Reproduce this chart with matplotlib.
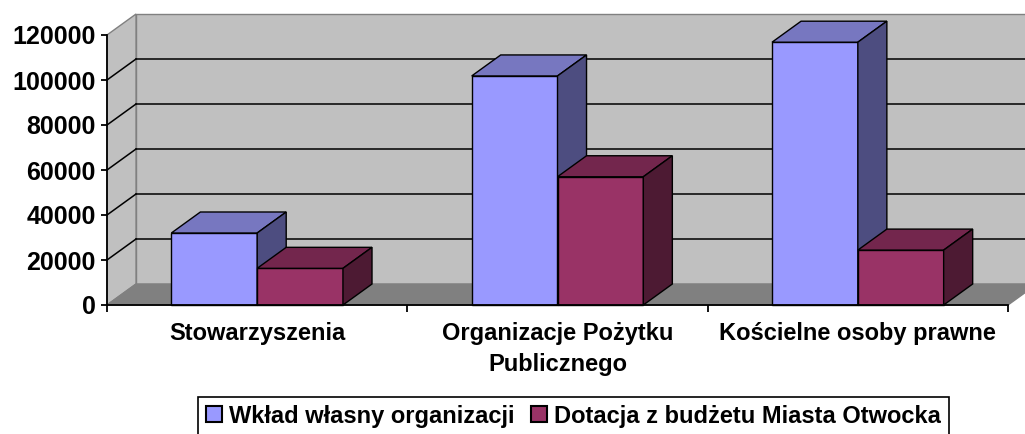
import matplotlib
matplotlib.use("Agg")
import matplotlib.pyplot as plt
from matplotlib.patches import Polygon, Patch

categories = ['Stowarzyszenia', 'Organizacje Pożytku\nPublicznego', 'Kościelne osoby prawne']
series_names = ['Wkład własny organizacji', 'Dotacja z budżetu Miasta Otwocka']
wklad = [32000, 101800, 116800]
dotacja = [16300, 57000, 24400]
yticks = [0, 20000, 40000, 60000, 80000, 100000, 120000]

# front, top, side shades (Excel 3D look)
blue = ('#9999FF', '#7777C0', '#4D4D80')
red = ('#993366', '#73264D', '#4D1A33')

plt.rcParams['font.family'] = ['Liberation Sans', 'DejaVu Sans']
plt.rcParams['font.weight'] = 'bold'
fs = 17

fig = plt.figure(figsize=(10.25, 4.34), dpi=100)
W, H = 1025, 434
ax = fig.add_axes([107 / W, (H - 305) / H, 901 / W, 270 / H])
ax.set_xlim(0, 3)
ax.set_ylim(0, 120000)
ax.patch.set_visible(False)

# depth of the 3D box, in data units (29 px right, 21 px up)
ddx = 29 / 300
ddy = 21 / 270 * 120000
ymax = yticks[-1]
nx = len(categories)

wall_kw = dict(clip_on=False, linewidth=1.0, edgecolor='#808080', zorder=0)
# back wall
ax.add_patch(Polygon([(ddx, ddy), (nx + ddx, ddy), (nx + ddx, ymax + ddy), (ddx, ymax + ddy)],
                     facecolor='#C0C0C0', **wall_kw))
# left wall
ax.add_patch(Polygon([(0, 0), (ddx, ddy), (ddx, ymax + ddy), (0, ymax)],
                     facecolor='#C0C0C0', **wall_kw))
# floor
ax.add_patch(Polygon([(0, 0), (nx, 0), (nx + ddx, ddy), (ddx, ddy)],
                     facecolor='#808080', **wall_kw))

# gridlines on back and left wall
for v in yticks[1:-1]:
    ax.plot([ddx, nx + ddx], [v + ddy, v + ddy], color='black', lw=1.1, zorder=1, clip_on=False)
    ax.plot([0, ddx], [v, v + ddy], color='black', lw=1.1, zorder=1, clip_on=False)

# bars
bw = 1 / 3.5
x0 = [i + 0.75 * bw for i in range(nx)]


def bars3d(xs, vals, shades):
    front, top, side = shades
    ax.bar(xs, vals, width=bw, align='edge', color=front, edgecolor='black',
           linewidth=1.0, zorder=3, clip_on=False)
    for x, v in zip(xs, vals):
        ax.add_patch(Polygon([(x, v), (x + bw, v), (x + bw + ddx, v + ddy), (x + ddx, v + ddy)],
                             facecolor=top, edgecolor='black', lw=1.0, zorder=3, clip_on=False))
        ax.add_patch(Polygon([(x + bw, 0), (x + bw + ddx, ddy), (x + bw + ddx, v + ddy), (x + bw, v)],
                             facecolor=side, edgecolor='black', lw=1.0, zorder=3, clip_on=False))


bars3d(x0, wklad, blue)
bars3d([x + bw for x in x0], dotacja, red)

# axes
for s in ['top', 'right']:
    ax.spines[s].set_visible(False)
for s in ['left', 'bottom']:
    ax.spines[s].set_color('black')
    ax.spines[s].set_linewidth(1.3)
    ax.spines[s].set_zorder(4)

ax.set_yticks(yticks)
ax.set_yticklabels([str(v) for v in yticks], fontsize=18, fontweight='bold')
ax.tick_params(axis='y', direction='out', length=4, width=1.3, pad=4)

ax.set_xticks(range(nx + 1))
ax.set_xticklabels([])
ax.tick_params(axis='x', which='major', direction='out', length=5, width=1.3)
ax.set_xticks([i + 0.5 for i in range(nx)], minor=True)
ax.set_xticklabels(categories, minor=True, fontsize=fs, fontweight='bold', linespacing=1.45)
ax.tick_params(axis='x', which='minor', length=0, pad=12)

handles = [Patch(facecolor=blue[0], edgecolor='black', lw=1.5),
           Patch(facecolor=red[0], edgecolor='black', lw=1.5)]
leg = fig.legend(handles, series_names, loc='upper center', ncol=2,
                 bbox_to_anchor=((190 + 957) / 2 / W, 1 - 397 / H),
                 prop={'size': fs, 'weight': 'bold'}, frameon=True, fancybox=False,
                 framealpha=1, edgecolor='black', handlelength=0.68, handleheight=0.68,
                 handletextpad=0.3, columnspacing=0.7, borderpad=0.32, borderaxespad=0)
leg.get_frame().set_linewidth(1.2)

fig.savefig('out.png', dpi=100, facecolor='white')
